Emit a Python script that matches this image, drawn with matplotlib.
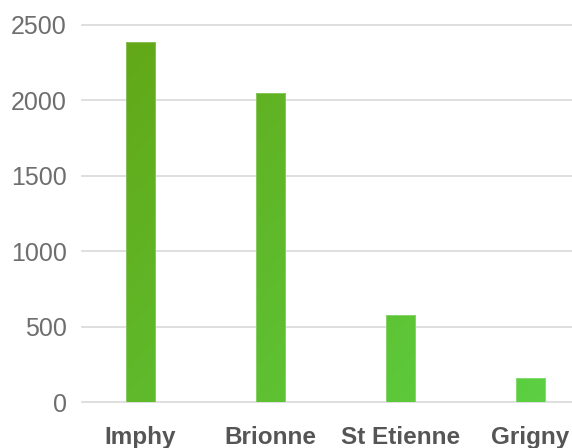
import numpy as np
import matplotlib
matplotlib.use("Agg")
import matplotlib.pyplot as plt
from matplotlib.colors import LinearSegmentedColormap

categories = ["Imphy", "Brionne", "St Etienne", "Grigny"]
values = [2390, 2050, 580, 160]
yticks = [0, 500, 1000, 1500, 2000, 2500]

plt.rcParams['font.family'] = ['Liberation Sans', 'DejaVu Sans']

fig = plt.figure(figsize=(5.72, 4.48), dpi=100)
ax = fig.add_axes([82/572, 46/448, 490/572, 377/448])

x = np.arange(len(categories))
bars = ax.bar(x, values, width=0.227, color='none', edgecolor=(1, 1, 1, 0.3), linewidth=0.6, zorder=3)

ax.set_xlim(-0.45, 3.319)
ax.set_ylim(0, 2500)

# diagonal gradient fill clipped to bars
cmap = LinearSegmentedColormap.from_list("g", ["#63a515", "#5bd244"])
nx, ny = 200, 200
xx, yy = np.meshgrid(np.linspace(0, 1, nx), np.linspace(0, 1, ny))
grad = 0.6 * xx + 0.4 * (1 - yy)
xl = ax.get_xlim(); yl = ax.get_ylim()
for b in bars:
    im = ax.imshow(grad, extent=[xl[0], xl[1], yl[0], yl[1]], origin='lower',
                   cmap=cmap, vmin=0, vmax=1, aspect='auto', zorder=2)
    im.set_clip_path(b)
ax.set_xlim(xl); ax.set_ylim(yl)

ax.set_yticks(yticks)
ax.set_yticklabels([str(v) for v in yticks], fontsize=18, color='#6e6e6e')
ax.set_xticks(x)
ax.set_xticklabels(categories, fontsize=17.5, fontweight='bold', color='#555555')
ax.tick_params(axis='both', length=0)
ax.tick_params(axis='y', pad=11)
ax.tick_params(axis='x', pad=17)
for s in ax.spines.values():
    s.set_visible(False)
for v in yticks:
    ax.axhline(v, color='#dcdcdc', linewidth=1.3, zorder=1, clip_on=False)

fig.savefig("out.png", dpi=100)
